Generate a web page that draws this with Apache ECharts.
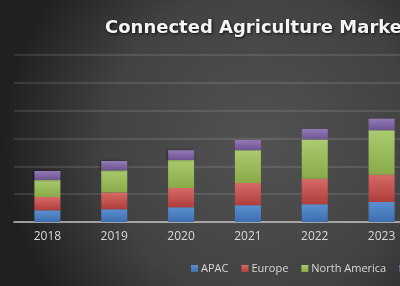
<!DOCTYPE html>
<html>
<head>
<meta charset="utf-8">
<script src="https://cdn.jsdelivr.net/npm/echarts@6/dist/echarts.min.js"></script>
<style>
html,body{margin:0;padding:0;}
#chart{width:400px;height:286px;}
</style>
</head>
<body>
<div id="chart"></div>
<script>
var years=["2018","2019","2020","2021","2022","2023"];
var apac=[0.42,0.46,0.53,0.60,0.64,0.72];
var europe=[0.48,0.60,0.69,0.80,0.91,0.98];
var northAmerica=[0.61,0.80,1.01,1.18,1.41,1.60];
var restOfWorld=[0.32,0.33,0.35,0.37,0.38,0.41];

function grad(top,bottom){
	return new echarts.graphic.LinearGradient(0,0,0,1,[{offset:0,color:top},{offset:1,color:bottom}]);
}
function mkSeries(name,data,top,bottom){
	return {
		name:name,
		type:'bar',
		stack:'total',
		barWidth:26,
		data:data,
		itemStyle:{
			color:grad(top,bottom),
			shadowBlur:3,
			shadowColor:'rgba(0,0,0,0.5)',
			shadowOffsetX:-1
		}
	};
}

var myChart=echarts.init(document.getElementById('chart'));
myChart.setOption({
	backgroundColor:new echarts.graphic.RadialGradient(0.65,0.5,0.9,[
		{offset:0,color:'#525252'},
		{offset:0.6,color:'#424242'},
		{offset:1,color:'#202020'}
	]),
	title:{
		text:'Connected Agriculture Market',
		left:100,
		top:14,
		textStyle:{
			color:'#f4f4f4',
			fontFamily:'DejaVu Sans',
			fontWeight:'bold',
			fontSize:18,
			textShadowColor:'rgba(0,0,0,0.8)',
			textShadowBlur:3,
			textShadowOffsetX:1,
			textShadowOffsetY:1
		}
	},
	legend:{
		left:186,
		top:258,
		width:600,
		itemWidth:7,
		itemHeight:7,
		itemGap:13,
		icon:'rect',
		textStyle:{color:'#d9d9d9',fontFamily:'Open Sans',fontSize:11,padding:[0,0,0,-2]},
		data:['APAC','Europe','North America','Rest of the World']
	},
	grid:{left:14,width:401,top:55,bottom:64,outerBoundsMode:'none',containLabel:false},
	xAxis:{
		type:'category',
		data:years,
		axisLine:{lineStyle:{color:'#bfbfbf',width:1.5}},
		axisTick:{show:false},
		axisLabel:{color:'#d9d9d9',fontFamily:'Open Sans',fontSize:12,margin:9}
	},
	yAxis:{
		type:'value',
		min:0,
		max:6,
		interval:1,
		axisLabel:{show:false},
		axisLine:{show:false},
		axisTick:{show:false},
		splitLine:{lineStyle:{color:'rgba(255,255,255,0.14)',width:1.5}}
	},
	series:[
		mkSeries('APAC',apac,'#5b8fd0','#3d6fb0'),
		mkSeries('Europe',europe,'#d66a66','#b03e3b'),
		mkSeries('North America',northAmerica,'#aacb6e','#88aa48'),
		mkSeries('Rest of the World',restOfWorld,'#9479b8','#6e5391')
	]
});
</script>
</body>
</html>
